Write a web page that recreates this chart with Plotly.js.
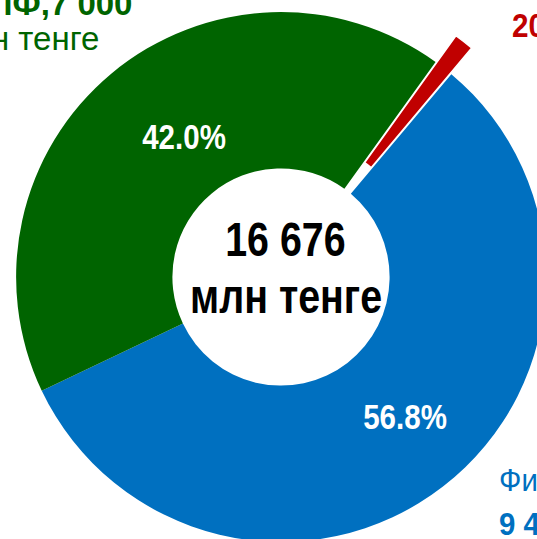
<!DOCTYPE html>
<html>
<head>
<meta charset="utf-8">
<script src="https://cdn.plot.ly/plotly-3.0.1.min.js"></script>
<style>
html, body { margin: 0; padding: 0; overflow: hidden; width: 537px; height: 539px; background: #fff; }
#chart { position: absolute; left: -17px; top: -21px; width: 596px; height: 596px; }
</style>
</head>
<body>
<div id="chart"></div>
<script>
// Data
const categories = ["Прочие", "Физические лица", "ЕНПФ"];
const values = [200, 9476, 7000];
const colors = ["#C00000", "#0070C0", "#006400"];
const totalLabel = "16 676";
const unitLabel = "млн тенге";

const FONT = "'Liberation Sans', Arial, sans-serif";
const SX = 0.82; // narrow (condensed) look

const total = values.reduce((a, b) => a + b, 0);
const fmt = v => String(v).replace(/\B(?=(\d{3})+(?!\d))/g, ' ');
const pct = v => (v / total * 100).toFixed(1) + '%';

const W = 596, H = 596, OX = -17, OY = -21;
const px = x => (x - OX) / W;
const py = y => 1 - (y - OY) / H;

const trace = {
  type: 'pie',
  labels: categories,
  values: values,
  sort: false,
  direction: 'clockwise',
  rotation: 35.7,
  hole: 0.41,
  pull: [0.125, 0, 0],
  marker: { colors: colors, line: { color: '#ffffff', width: [1.5, 0, 0] } },
  textinfo: 'none',
  hoverinfo: 'none',
  showlegend: false,
  domain: { x: [0, 1], y: [0, 1] }
};

const annotations = [
  { x: px(285), y: py(240), sx: SX, text: '<b>' + totalLabel + '</b>', font: { family: FONT, size: 48, color: '#000' } },
  { x: px(286), y: py(296), sx: SX, text: '<b>' + unitLabel + '</b>', font: { family: FONT, size: 48, color: '#000' } },
  { x: px(184), y: py(136), sx: SX, text: '<b>' + pct(values[2]) + '</b>', font: { family: FONT, size: 36, color: '#fff' } },
  { x: px(405), y: py(416), sx: SX, text: '<b>' + pct(values[1]) + '</b>', font: { family: FONT, size: 36, color: '#fff' } },
  { x: px(134), y: py(4), xanchor: 'right', sx: 1.0, text: '<b>' + categories[2] + ',' + fmt(values[2]) + '</b>', font: { family: FONT, size: 33, color: colors[2] } },
  { x: px(101), y: py(39), xanchor: 'right', sx: 1.0, text: unitLabel, font: { family: FONT, size: 33, color: colors[2] } },
  { x: px(510), y: py(25.5), xanchor: 'left', sx: 0.9, text: '<b>' + fmt(values[0]) + '</b>', font: { family: FONT, size: 33, color: colors[0] } },
  { x: px(497), y: py(481), xanchor: 'left', sx: 0.95, text: categories[1] + ',', font: { family: FONT, size: 31, color: colors[1] } },
  { x: px(497), y: py(524), xanchor: 'left', sx: 0.95, text: '<b>' + fmt(values[1]) + '</b> ' + unitLabel, font: { family: FONT, size: 31, color: colors[1] } }
].map(a => Object.assign({ xref: 'paper', yref: 'paper', showarrow: false, yanchor: 'middle', xanchor: 'center' }, a));

const layout = {
  width: W, height: H,
  margin: { l: 0, r: 0, t: 0, b: 0, pad: 0 },
  paper_bgcolor: '#ffffff',
  plot_bgcolor: '#ffffff',
  showlegend: false,
  annotations: annotations.map(a => { const c = Object.assign({}, a); delete c.sx; return c; })
};

Plotly.newPlot('chart', [trace], layout, { displayModeBar: false, staticPlot: true }).then(() => {
  document.querySelectorAll('g.annotation').forEach(g => {
    const i = +g.getAttribute('data-index');
    const t = g.querySelector('text.annotation-text');
    if (!t || !annotations[i]) return;
    const s = annotations[i].sx;
    if (s === 1) return;
    const bb = t.getBBox();
    const xa = annotations[i].xanchor;
    const ax = xa === 'left' ? bb.x : (xa === 'right' ? bb.x + bb.width : bb.x + bb.width / 2);
    const prev = t.getAttribute('transform') || '';
    t.setAttribute('transform', prev + ' translate(' + ax + ',0) scale(' + s + ',1) translate(' + (-ax) + ',0)');
  });
});
</script>
</body>
</html>
